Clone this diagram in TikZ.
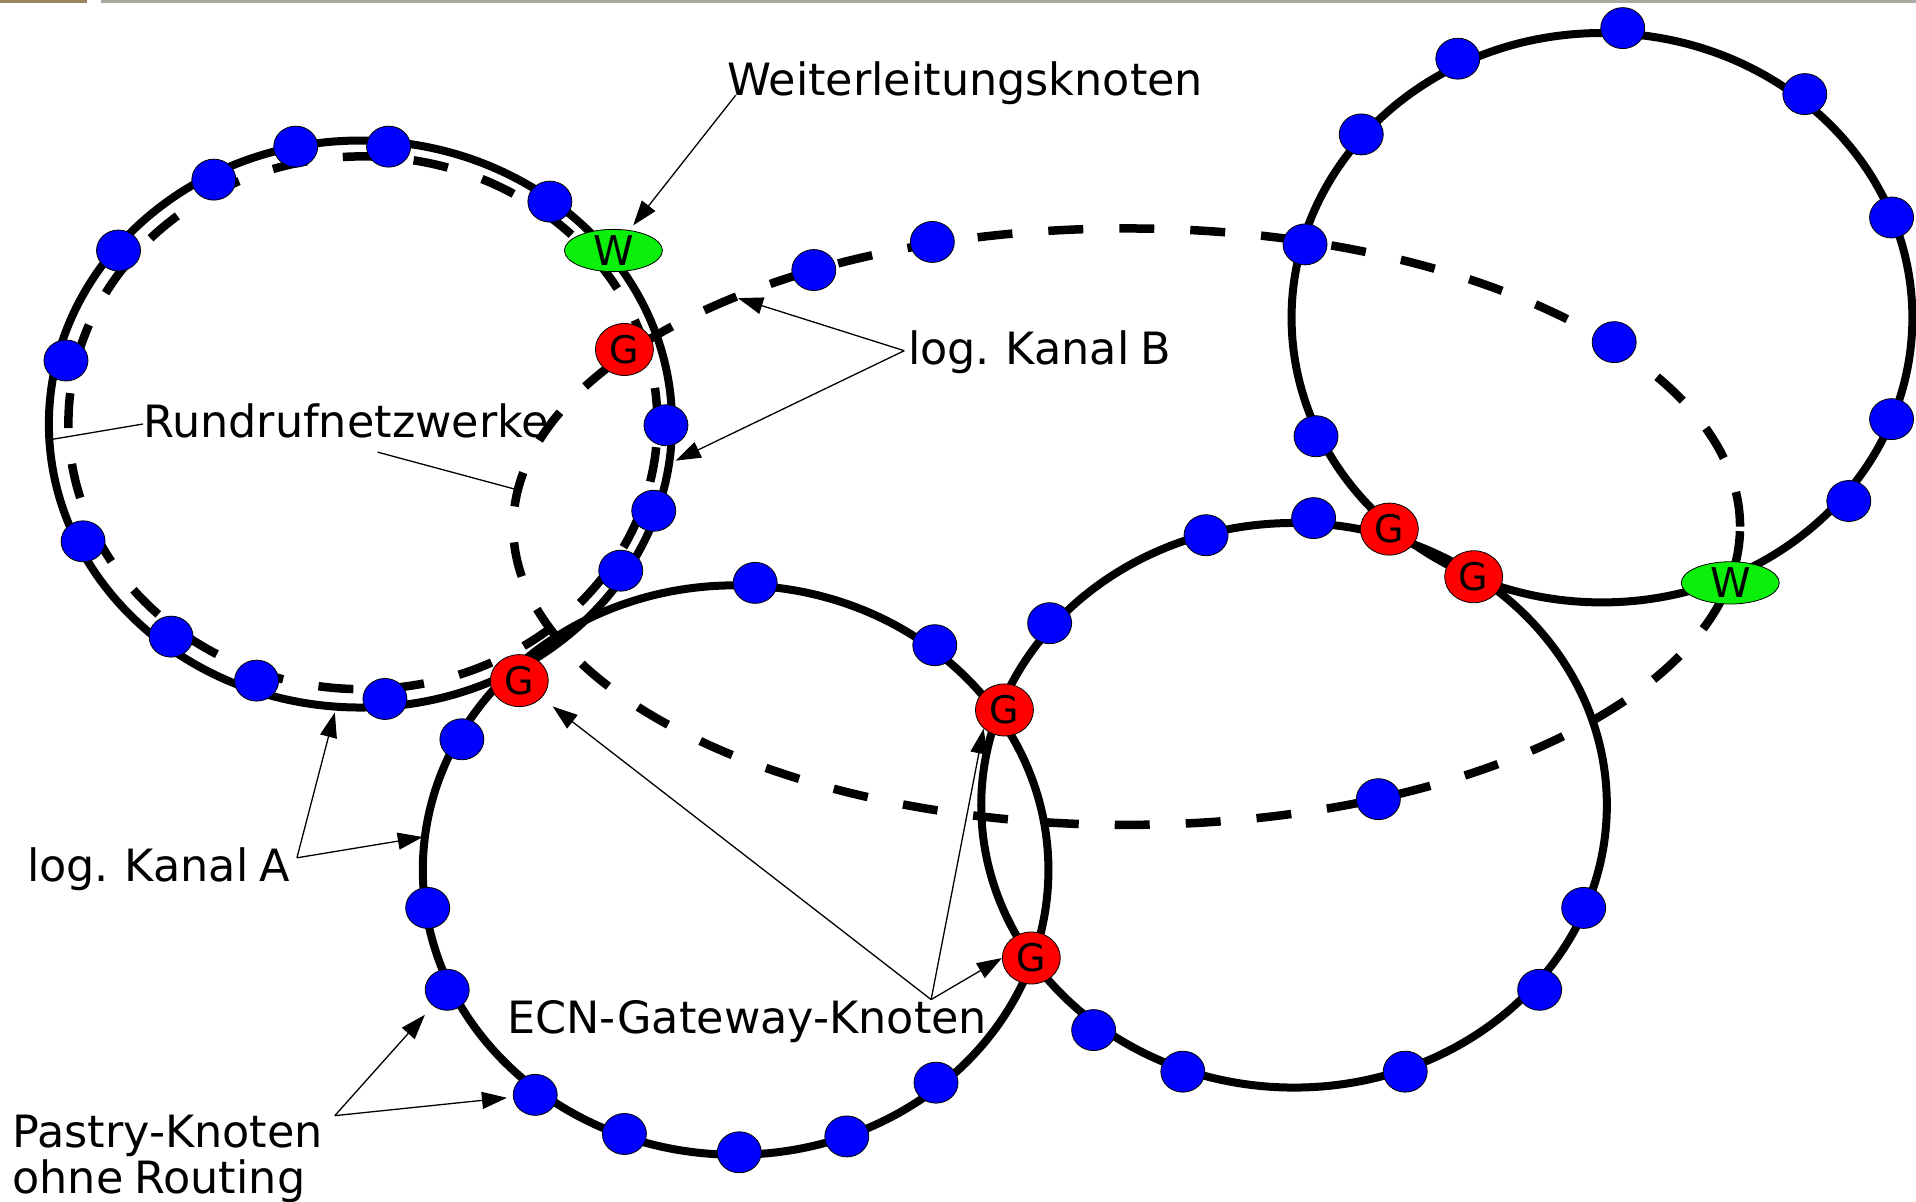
\documentclass[tikz,border=0pt]{standalone}
\usepackage{fontspec}
\setmainfont{DejaVu Sans}
\usetikzlibrary{arrows.meta,shapes.geometric}
\definecolor{pblue}{RGB}{0,0,255}
\definecolor{gred}{RGB}{255,0,0}
\definecolor{wgreen}{RGB}{10,240,10}
\definecolor{stripbrown}{RGB}{155,134,98}
\definecolor{stripgray}{RGB}{170,170,160}
% label font: slightly tighter word spacing
\newcommand\labelfont{\fontsize{44.5}{48}\selectfont\spaceskip 0.25em\relax}
\begin{document}
\begin{tikzpicture}[x=1.221939pt,y=-1.221939pt,
  ring/.style={line width=8pt},
  chan/.style={line width=8.5pt,dash pattern=on 35pt off 36pt},
  pastry/.style={ellipse,draw=black,line width=0.8pt,fill=pblue,
    minimum width=44pt,minimum height=41pt,inner sep=0pt},
  gate/.style={ellipse,draw=black,line width=0.8pt,fill=gred,
    minimum width=58pt,minimum height=52pt,inner sep=0pt,
    font=\fontsize{38}{38}\selectfont},
  fwd/.style={ellipse,draw=black,line width=0.8pt,fill=wgreen,
    minimum width=98pt,minimum height=38pt,inner sep=0pt,
    font=\fontsize{41}{41}\selectfont},
  lbl/.style={font=\labelfont,inner sep=0pt,anchor=base west},
  pointer/.style={line width=1.3pt,-{Triangle[length=25pt,width=17pt]}},
  leader/.style={line width=1.3pt}]
\useasboundingbox (0,0) rectangle (1568,983);

% header strip
\fill[stripbrown] (0,0) rectangle (71.2,2.6);
\fill[stripgray] (82.7,0) rectangle (1568,2.6);

% ring centres
\coordinate (cA) at (295,347);
\coordinate (cA2) at (297,346);
\coordinate (cB) at (922,431);
\coordinate (cC) at (602,712);
\coordinate (cD) at (1059,659);
\coordinate (cE) at (1311,260);

% broadcast networks (solid rings)
\draw[ring] (cA) ellipse [x radius=311.6pt, y radius=283.5pt];
\draw[ring] (cC) ellipse [x radius=312.8pt, y radius=284.7pt];
\draw[ring] (cD) ellipse [x radius=312.8pt, y radius=282.3pt];
\draw[ring] (cE) ellipse [x radius=310.4pt, y radius=284.7pt];
% logical channels (dashed rings)
\draw[chan] (cA2) ellipse [x radius=294.5pt, y radius=266.4pt];
\draw[chan] (cB) ellipse [x radius=613.4pt, y radius=298.2pt];

% ring A
\node[pastry] (a1) at (97,205) {};
\node[pastry] (a2) at (175,147) {};
\node[pastry] (a3) at (242,120) {};
\node[pastry] (a4) at (318,120) {};
\node[pastry] (a5) at (450,165) {};
\node[pastry] (a6) at (545,348) {};
\node[pastry] (a7) at (535,418) {};
\node[pastry] (a8) at (508,467) {};
\node[pastry] (a9) at (315,572) {};
\node[pastry] (a10) at (210,557) {};
\node[pastry] (a11) at (140,521) {};
\node[pastry] (a12) at (68,443) {};
\node[pastry] (a13) at (54,295) {};
% ring C
\node[pastry] (c1) at (378,605) {};
\node[pastry] (c2) at (618,477) {};
\node[pastry] (c3) at (765,528) {};
\node[pastry] (c4) at (766,886) {};
\node[pastry] (c5) at (693,930) {};
\node[pastry] (c6) at (605,943) {};
\node[pastry] (c7) at (511,928) {};
\node[pastry] (c8) at (438,896) {};
\node[pastry] (c9) at (366,810) {};
\node[pastry] (c10) at (350,743) {};
% ring D
\node[pastry] (d1) at (859,510) {};
\node[pastry] (d2) at (987,438) {};
\node[pastry] (d3) at (1075,424) {};
\node[pastry] (d4) at (1296,743) {};
\node[pastry] (d5) at (1260,810) {};
\node[pastry] (d6) at (1150,877) {};
\node[pastry] (d7) at (968,877) {};
\node[pastry] (d8) at (895,843) {};
% ring E
\node[pastry] (e1) at (1328,23) {};
\node[pastry] (e2) at (1193,48) {};
\node[pastry] (e3) at (1114,110) {};
\node[pastry] (e4) at (1077,357) {};
\node[pastry] (e5) at (1513,410) {};
\node[pastry] (e6) at (1548,343) {};
\node[pastry] (e7) at (1548,178) {};
\node[pastry] (e8) at (1477,77) {};
% channel B
\node[pastry] (b1) at (666,221) {};
\node[pastry] (b2) at (763,198) {};
\node[pastry] (b3) at (1068,200) {};
\node[pastry] (b4) at (1321,280) {};
\node[pastry] (b5) at (1128,654) {};

% gateway nodes
\node[gate] (g0) at (511,286) {G};
\node[gate] (g1) at (425,557) {G};
\node[gate] (g2) at (822,581) {G};
\node[gate] (g3) at (844,784) {G};
\node[gate] (g4) at (1137,433) {G};
\node[gate] (g5) at (1206,472) {G};
% forwarding nodes
\node[fwd] (w1) at (502,205) {W};
\node[fwd] (w2) at (1416,477) {W};

% labels
\node[lbl] (weiter) at (595,78) {Weiterleitungsknoten};
\node[lbl] (kanalB) at (743,298) {log. Kanal B};
\node[lbl] (rundruf) at (117,358) {Rundrufnetzwerke};
\node[lbl] (kanalA) at (22,721) {log. Kanal A};
\node[lbl] (ecn) at (415,846) {ECN-Gateway-Knoten};
\node[lbl] (pastryA) at (10,939) {Pastry-Knoten};
\node[lbl] (pastryB) at (10,977) {ohne Routing};

% pointer ends
\coordinate (pW) at (602,78);
\coordinate (pB) at (740,287);
\coordinate (tB1) at (604,244);
\coordinate (tB2) at (553,377);
\coordinate (rL) at (117,347);
\coordinate (rLt) at (40,360);
\coordinate (rR) at (309,370);
\coordinate (rRt) at (424,401);
\coordinate (pA) at (243,702);
\coordinate (tA1) at (274,583);
\coordinate (tA2) at (346,685);
\coordinate (pE) at (762,818);
\coordinate (pP) at (274,913);

\draw[pointer,shorten >=6pt] (pW) -- (w1);
\draw[pointer] (pB) -- (tB1);
\draw[pointer] (pB) -- (tB2);
\draw[leader] (rL) -- (rLt);
\draw[leader] (rR) -- (rRt);
\draw[pointer] (pA) -- (tA1);
\draw[pointer] (pA) -- (tA2);
\draw[pointer,shorten >=14pt] (pE) -- (g1);
\draw[pointer] (pE) -- (g2.south west);
\draw[pointer] (pE) -- (g3.west);
\draw[pointer,shorten >=12pt] (pP) -- (c9);
\draw[pointer,shorten >=6pt] (pP) -- (c8);
\end{tikzpicture}
\end{document}
